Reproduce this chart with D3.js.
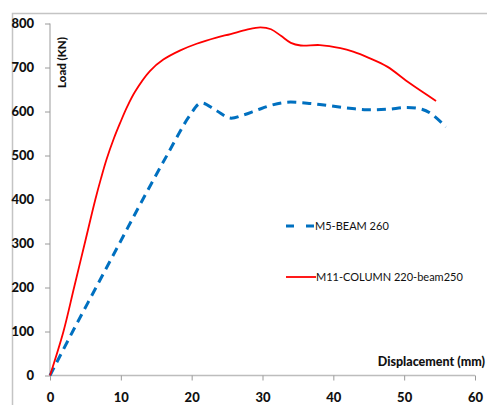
<!DOCTYPE html>
<html><head><meta charset="utf-8">
<script src="https://cdn.jsdelivr.net/npm/d3@7"></script>
<style>body{margin:0;background:#fff}svg{display:block}</style>
</head><body><svg id="c" width="487" height="405"></svg>
<script>
const xTicks = [0,10,20,30,40,50,60];
const yTicks = [0,100,200,300,400,500,600,700,800];
const beamDisp = [0,3.2,6.5,9.8,13.1,16.5,19.7,21.3,23.4,25.4,27.3,29.2,31.2,33.4,36.3,39.1,41.9,44.7,47.6,50.4,52.5,53.8,55.9];
const beamLoad = [0,100,200,300,400,500,590,619,603,585,592,603,614,621,619,614,608,604,605,609,605,595,565];
const colDisp = [0,1.9,3.4,4.9,6.4,7.2,8.0,9.0,9.9,10.9,12.0,14.1,16.0,18.4,20.7,23.5,25.5,27.8,29.7,31.2,32.6,34.0,35.4,38.1,41.0,42.8,45.0,47.6,50.8,54.5];
const colLoad = [0,100,200,300,400,448,492,538,574,611,645,692,718,739,754,768,776,786,791,787,772,756,750,751,744,736,722,702,664,624];
const legendLabels = ["M5-BEAM 260","M11-COLUMN 220-beam250"];

const svg = d3.select("#c");
const x = d3.scaleLinear().domain([0,60]).range([50,475]);
const y = d3.scaleLinear().domain([0,800]).range([375.5,23.5]);
const font = "Lato, 'Open Sans', sans-serif";

// outer border
svg.append("path").attr("d","M12.5,420 V13.5 H500").attr("fill","none").attr("stroke","#c4c4c4").attr("stroke-width",1.5);

// axes
const ya = svg.append("g").attr("transform","translate(50,0)")
  .call(d3.axisLeft(y).tickValues(yTicks).tickSize(5).tickPadding(11));
ya.select(".domain").attr("stroke","#bdbdbd").attr("stroke-width",1.5).attr("d","M0,375.5V23.5");
ya.selectAll(".tick line").attr("stroke","#9a9a9a");
ya.selectAll("text").attr("font-family",font).attr("font-weight","900").attr("font-size",13).attr("fill","#111");

const xa = svg.append("g").attr("transform","translate(0,375.5)")
  .call(d3.axisBottom(x).tickValues(xTicks).tickSize(5).tickPadding(12));
xa.select(".domain").attr("stroke","#bdbdbd").attr("stroke-width",1.5).attr("d","M50,0H475");
xa.selectAll(".tick line").attr("stroke","#9a9a9a");
xa.selectAll("text").attr("font-family",font).attr("font-weight","900").attr("font-size",13).attr("fill","#111");

// axis titles
svg.append("text").attr("transform","translate(66,88) rotate(-90)").attr("text-anchor","start")
  .attr("font-family",font).attr("font-weight","900").attr("font-size",11.5).attr("fill","#111").text("Load (KN)");
svg.append("text").attr("x",485).attr("y",366).attr("text-anchor","end")
  .attr("font-family",font).attr("font-weight","900").attr("font-size",12.5).attr("fill","#111").text("Displacement (mm)");

const line = d3.line().x(d=>x(d[0])).y(d=>y(d[1])).curve(d3.curveCatmullRom.alpha(0.5));
const beam = beamDisp.map((d,i)=>[d,beamLoad[i]]);
const col = colDisp.map((d,i)=>[d,colLoad[i]]);

svg.append("path").attr("d",line(beam)).attr("fill","none").attr("stroke","#0070C0")
  .attr("stroke-width",3).attr("stroke-dasharray","9,6");
svg.append("path").attr("d",line(col)).attr("fill","none").attr("stroke","#FF0000").attr("stroke-width",1.8);

// legend
const lg = svg.append("g");
lg.append("line").attr("x1",286).attr("x2",314).attr("y1",226).attr("y2",226)
  .attr("stroke","#0070C0").attr("stroke-width",3).attr("stroke-dasharray","8,12");
lg.append("text").attr("x",315).attr("y",230).attr("font-family",font).attr("font-size",11).attr("fill","#111").text(legendLabels[0]);
lg.append("line").attr("x1",286).attr("x2",316).attr("y1",277).attr("y2",277)
  .attr("stroke","#FF0000").attr("stroke-width",1.8);
lg.append("text").attr("x",316).attr("y",281).attr("font-family",font).attr("font-size",11).attr("fill","#111").text(legendLabels[1]);
</script></body></html>
